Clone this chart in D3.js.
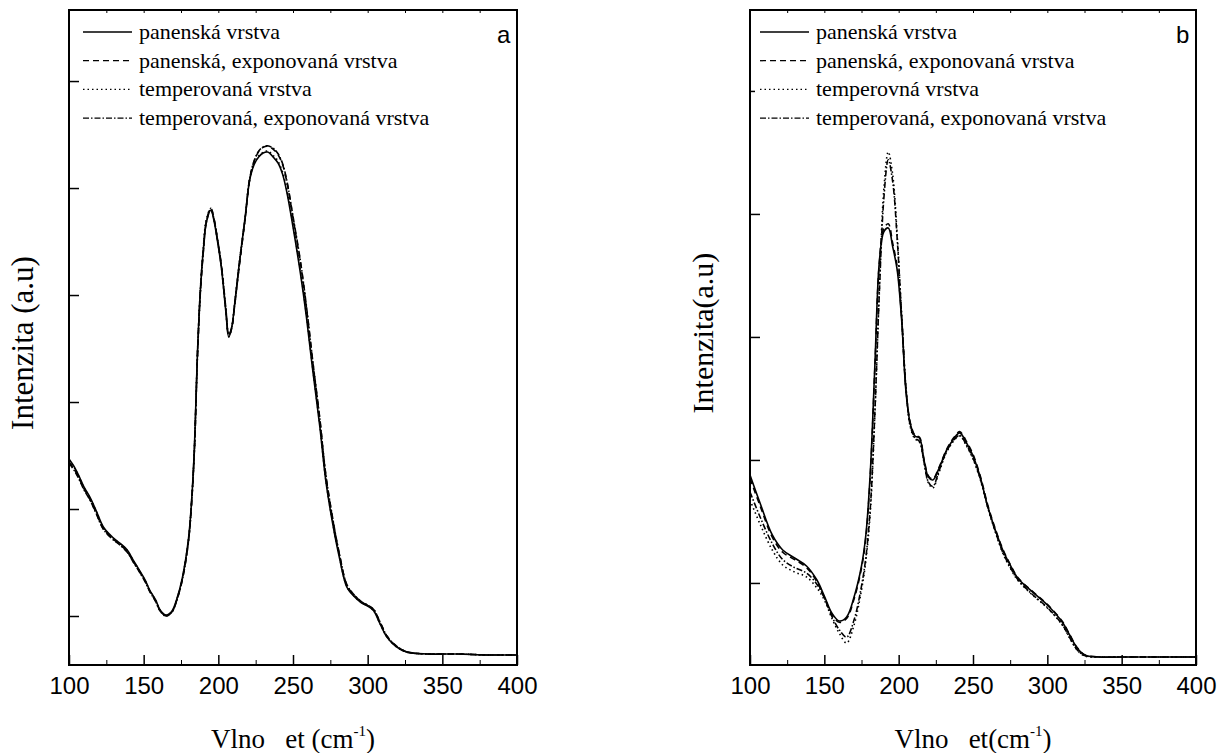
<!DOCTYPE html>
<html>
<head>
<meta charset="utf-8">
<script src="https://cdn.jsdelivr.net/npm/d3@7"></script>
<style>
  body { margin: 0; background: #fff; }
  svg { display: block; }
</style>
</head>
<body>
<div id="chart"></div>
<script>
const width = 1232, height = 753;

// panel a - wavenumbers (cm-1) and intensities (a.u.)
const wnA = [100,104,107,110,114,118,123,129,134,139,143,147,151,154,158,161,165,169,172,176,180,182,184,186,188,190,192,195,197,199,202,205,207,209,211,214,218,221,224,227,230,233,237,240,243,246,250,255,259,263,268,272,277,281,286,290,296,300,304,308,313,319,326,340,360,380,400];
const aVirgin = [2467,2383,2299,2206,2112,1991,1832,1738,1682,1617,1523,1430,1336,1243,1150,1056,1009,1047,1150,1364,1720,2056,2580,3450,4050,4430,4682,4794,4701,4542,4260,3850,3607,3700,3925,4290,4729,5075,5220,5290,5327,5336,5285,5234,5130,4953,4636,4200,3794,3320,2766,2260,1830,1550,1271,1196,1121,1093,1050,935,800,715,664,645,645,636,636];
const aVirginExp = [2440,2360,2280,2190,2090,1970,1815,1725,1670,1600,1510,1420,1325,1235,1140,1050,1000,1040,1140,1350,1700,2040,2560,3430,4040,4420,4690,4810,4720,4560,4280,3870,3620,3690,3910,4270,4720,5080,5250,5340,5380,5390,5360,5310,5220,5050,4720,4300,3880,3400,2830,2310,1870,1580,1290,1210,1130,1100,1060,950,810,720,666,645,645,636,636];
const aTemp = [2455,2375,2290,2200,2105,1985,1825,1732,1676,1610,1518,1425,1330,1240,1146,1052,1005,1044,1146,1360,1712,2050,2572,3440,4060,4450,4710,4810,4715,4550,4265,3855,3610,3702,3930,4300,4735,5085,5235,5300,5335,5345,5300,5250,5150,4975,4660,4225,3815,3340,2780,2270,1840,1560,1278,1200,1125,1095,1052,938,802,716,664,645,645,636,636];
const aTempExp = [2430,2350,2270,2180,2085,1965,1810,1720,1665,1595,1505,1415,1320,1230,1136,1046,998,1038,1138,1345,1695,2035,2555,3420,4030,4410,4680,4800,4715,4560,4285,3880,3630,3700,3915,4275,4725,5085,5255,5345,5385,5395,5370,5320,5230,5060,4735,4315,3895,3410,2840,2320,1880,1585,1295,1212,1132,1102,1062,952,812,722,666,645,645,636,636];

// panel b
const wnB = [100,107,115,122,130,138,145,150,155,160,165,170,175,178,181,184,187,190,193,196,199,202,205,208,211,214,217,220,223,227,232,237,241,246,250,255,260,265,270,275,280,290,300,310,315,320,325,335,350,370,400];
const bVirgin = [1878,1642,1390,1268,1203,1138,1024,894,756,691,724,886,1138,1398,1919,2772,3610,3854,3886,3732,3545,3138,2545,2285,2195,2179,2000,1862,1837,1927,2073,2171,2220,2130,2033,1854,1618,1431,1268,1146,1041,927,821,683,577,472,415,398,398,398,398];
const bVirginExp = [1850,1620,1372,1250,1190,1125,1010,880,745,680,712,870,1120,1380,1895,2750,3600,3880,3920,3760,3570,3160,2560,2295,2200,2185,2010,1870,1845,1935,2080,2180,2230,2140,2045,1865,1630,1440,1276,1152,1046,932,826,688,581,476,417,398,398,398,398];
const bTemp = [1675,1472,1268,1146,1089,1049,959,862,715,593,512,659,943,1187,1593,2366,3382,4195,4504,4317,3829,3179,2569,2260,2171,2146,1984,1813,1772,1894,2057,2154,2195,2106,2008,1837,1610,1415,1244,1122,1024,902,797,659,553,455,407,398,398,398,398];
const bTempExp = [1740,1530,1320,1190,1125,1080,990,880,730,620,560,700,975,1215,1625,2390,3360,4120,4440,4260,3800,3170,2575,2270,2180,2150,1990,1820,1785,1905,2065,2160,2200,2112,2015,1845,1615,1420,1250,1128,1030,906,800,662,556,458,410,398,398,398,398];

const xTicks = [100,150,200,250,300,350,400];
const xMinorTicks = [125,175,225,275,325,375];
const yTicksA = [1000,2000,3000,4000,5000,6000];
const yTicksB = [1000,2000,3000,4000,5000];

const legendA = ["panenská vrstva","panenská, exponovaná vrstva","temperovaná vrstva","temperovaná, exponovaná vrstva"];
const legendB = ["panenská vrstva","panenská, exponovaná vrstva","temperovná vrstva","temperovaná, exponovaná vrstva"];
const dashes = [null, "6,4", "1.5,3", "6,2,1.5,2"];

const serif = "'Liberation Serif', 'Times New Roman', Times, serif";
const sans = "'Liberation Sans', Arial, sans-serif";

const svg = d3.select("#chart")
  .append("svg")
  .attr("width", width)
  .attr("height", height);

function drawPanel(p) {
  const x = d3.scaleLinear().domain([100, 400]).range([p.left, p.right]);
  const y = d3.scaleLinear().domain(p.yDomain).range([p.bottom, p.top]);
  const g = svg.append("g");

  // curves
  const line = d3.line()
    .x(d => x(d[0]))
    .y(d => y(d[1]))
    .curve(d3.curveCatmullRom.alpha(0.5));

  p.series.forEach((s, i) => {
    g.append("path")
      .datum(p.wn.map((w, j) => [w, s[j]]))
      .attr("fill", "none")
      .attr("stroke", "#000")
      .attr("stroke-width", 1.6)
      .attr("stroke-dasharray", dashes[i])
      .attr("d", line);
  });

  // bottom axis, ticks pointing in
  g.append("g")
    .attr("transform", `translate(0,${p.bottom})`)
    .call(d3.axisBottom(x).tickValues(xMinorTicks).tickSize(-5).tickSizeOuter(0).tickFormat(""))
    .call(a => a.select(".domain").remove());
  const xa = g.append("g")
    .attr("transform", `translate(0,${p.bottom})`)
    .call(d3.axisBottom(x).tickValues(xTicks).tickSize(-10).tickSizeOuter(0).tickPadding(12));
  xa.select(".domain").remove();
  xa.selectAll("line").attr("stroke-width", 1.5);
  xa.selectAll("text")
    .style("font-family", sans)
    .style("font-size", "24px")
    .attr("fill", "#000");

  // top axis small ticks
  g.append("g")
    .attr("transform", `translate(0,${p.top})`)
    .call(d3.axisTop(x).tickValues(xTicks.concat(xMinorTicks)).tickSize(-5).tickSizeOuter(0).tickFormat(""))
    .call(a => a.select(".domain").remove());

  // left axis, no labels
  const ya = g.append("g")
    .attr("transform", `translate(${p.left},0)`)
    .call(d3.axisLeft(y).tickValues(p.yTicks).tickSize(-10).tickSizeOuter(0).tickFormat(""));
  ya.select(".domain").remove();
  ya.selectAll("line").attr("stroke-width", 1.5);

  // legend
  const lg = g.append("g");
  lg.append("rect")
    .attr("x", p.left + p.legendGap)
    .attr("y", p.top + 3)
    .attr("width", p.right - p.left - p.legendGap - 4)
    .attr("height", 125)
    .attr("fill", "#fff");
  p.legend.forEach((t, i) => {
    const ly = 32 + i * 28.7;
    lg.append("line")
      .attr("x1", p.left + p.legendX0)
      .attr("x2", p.left + p.legendX0 + 49)
      .attr("y1", ly)
      .attr("y2", ly)
      .attr("stroke", "#000")
      .attr("stroke-width", 1.3)
      .attr("stroke-dasharray", dashes[i]);
    lg.append("text")
      .attr("x", p.left + p.legendX0 + 56)
      .attr("y", ly + 7)
      .style("font-family", serif)
      .style("font-size", "22px")
      .text(t);
  });
  lg.append("text")
    .attr("x", p.right - 20)
    .attr("y", 43)
    .style("font-family", sans)
    .style("font-size", "24px")
    .text(p.tag);

  // frame
  g.append("rect")
    .attr("x", p.left)
    .attr("y", p.top)
    .attr("width", p.right - p.left)
    .attr("height", p.bottom - p.top)
    .attr("fill", "none")
    .attr("stroke", "#000")
    .attr("stroke-width", 2);

  // axis titles
  const xt = g.append("text")
    .attr("x", (p.left + p.right) / 2)
    .attr("y", 748)
    .attr("text-anchor", "middle")
    .style("font-family", serif)
    .style("font-size", "27px");
  xt.append("tspan").text(p.xTitle);
  xt.append("tspan").attr("dy", -12).style("font-size", "15px").text("-1");
  xt.append("tspan").attr("dy", 12).text(")");

  g.append("text")
    .attr("transform", `translate(${p.yTitleX},${p.yTitleY}) rotate(-90)`)
    .attr("text-anchor", "middle")
    .style("font-family", serif)
    .style("font-size", p.yTitleSize)
    .text(p.yTitle);
}

drawPanel({
  left: 69, right: 517, top: 10, bottom: 665,
  yDomain: [542, 6664], yTicks: yTicksA,
  wn: wnA, series: [aVirgin, aVirginExp, aTemp, aTempExp],
  legend: legendA, legendGap: 12, legendX0: 14, tag: "a",
  xTitle: "Vlno\u00a0\u00a0 et (cm", yTitle: "Intenzita (a.u)",
  yTitleX: 33, yTitleY: 343, yTitleSize: "31px"
});

drawPanel({
  left: 750, right: 1196, top: 10, bottom: 665,
  yDomain: [333, 5658], yTicks: yTicksB,
  wn: wnB, series: [bVirgin, bVirginExp, bTemp, bTempExp],
  legend: legendB, legendGap: 5, legendX0: 10, tag: "b",
  xTitle: "Vlno\u00a0\u00a0 et(cm", yTitle: "Intenzita(a.u)",
  yTitleX: 713, yTitleY: 333, yTitleSize: "30px"
});
</script>
</body>
</html>
